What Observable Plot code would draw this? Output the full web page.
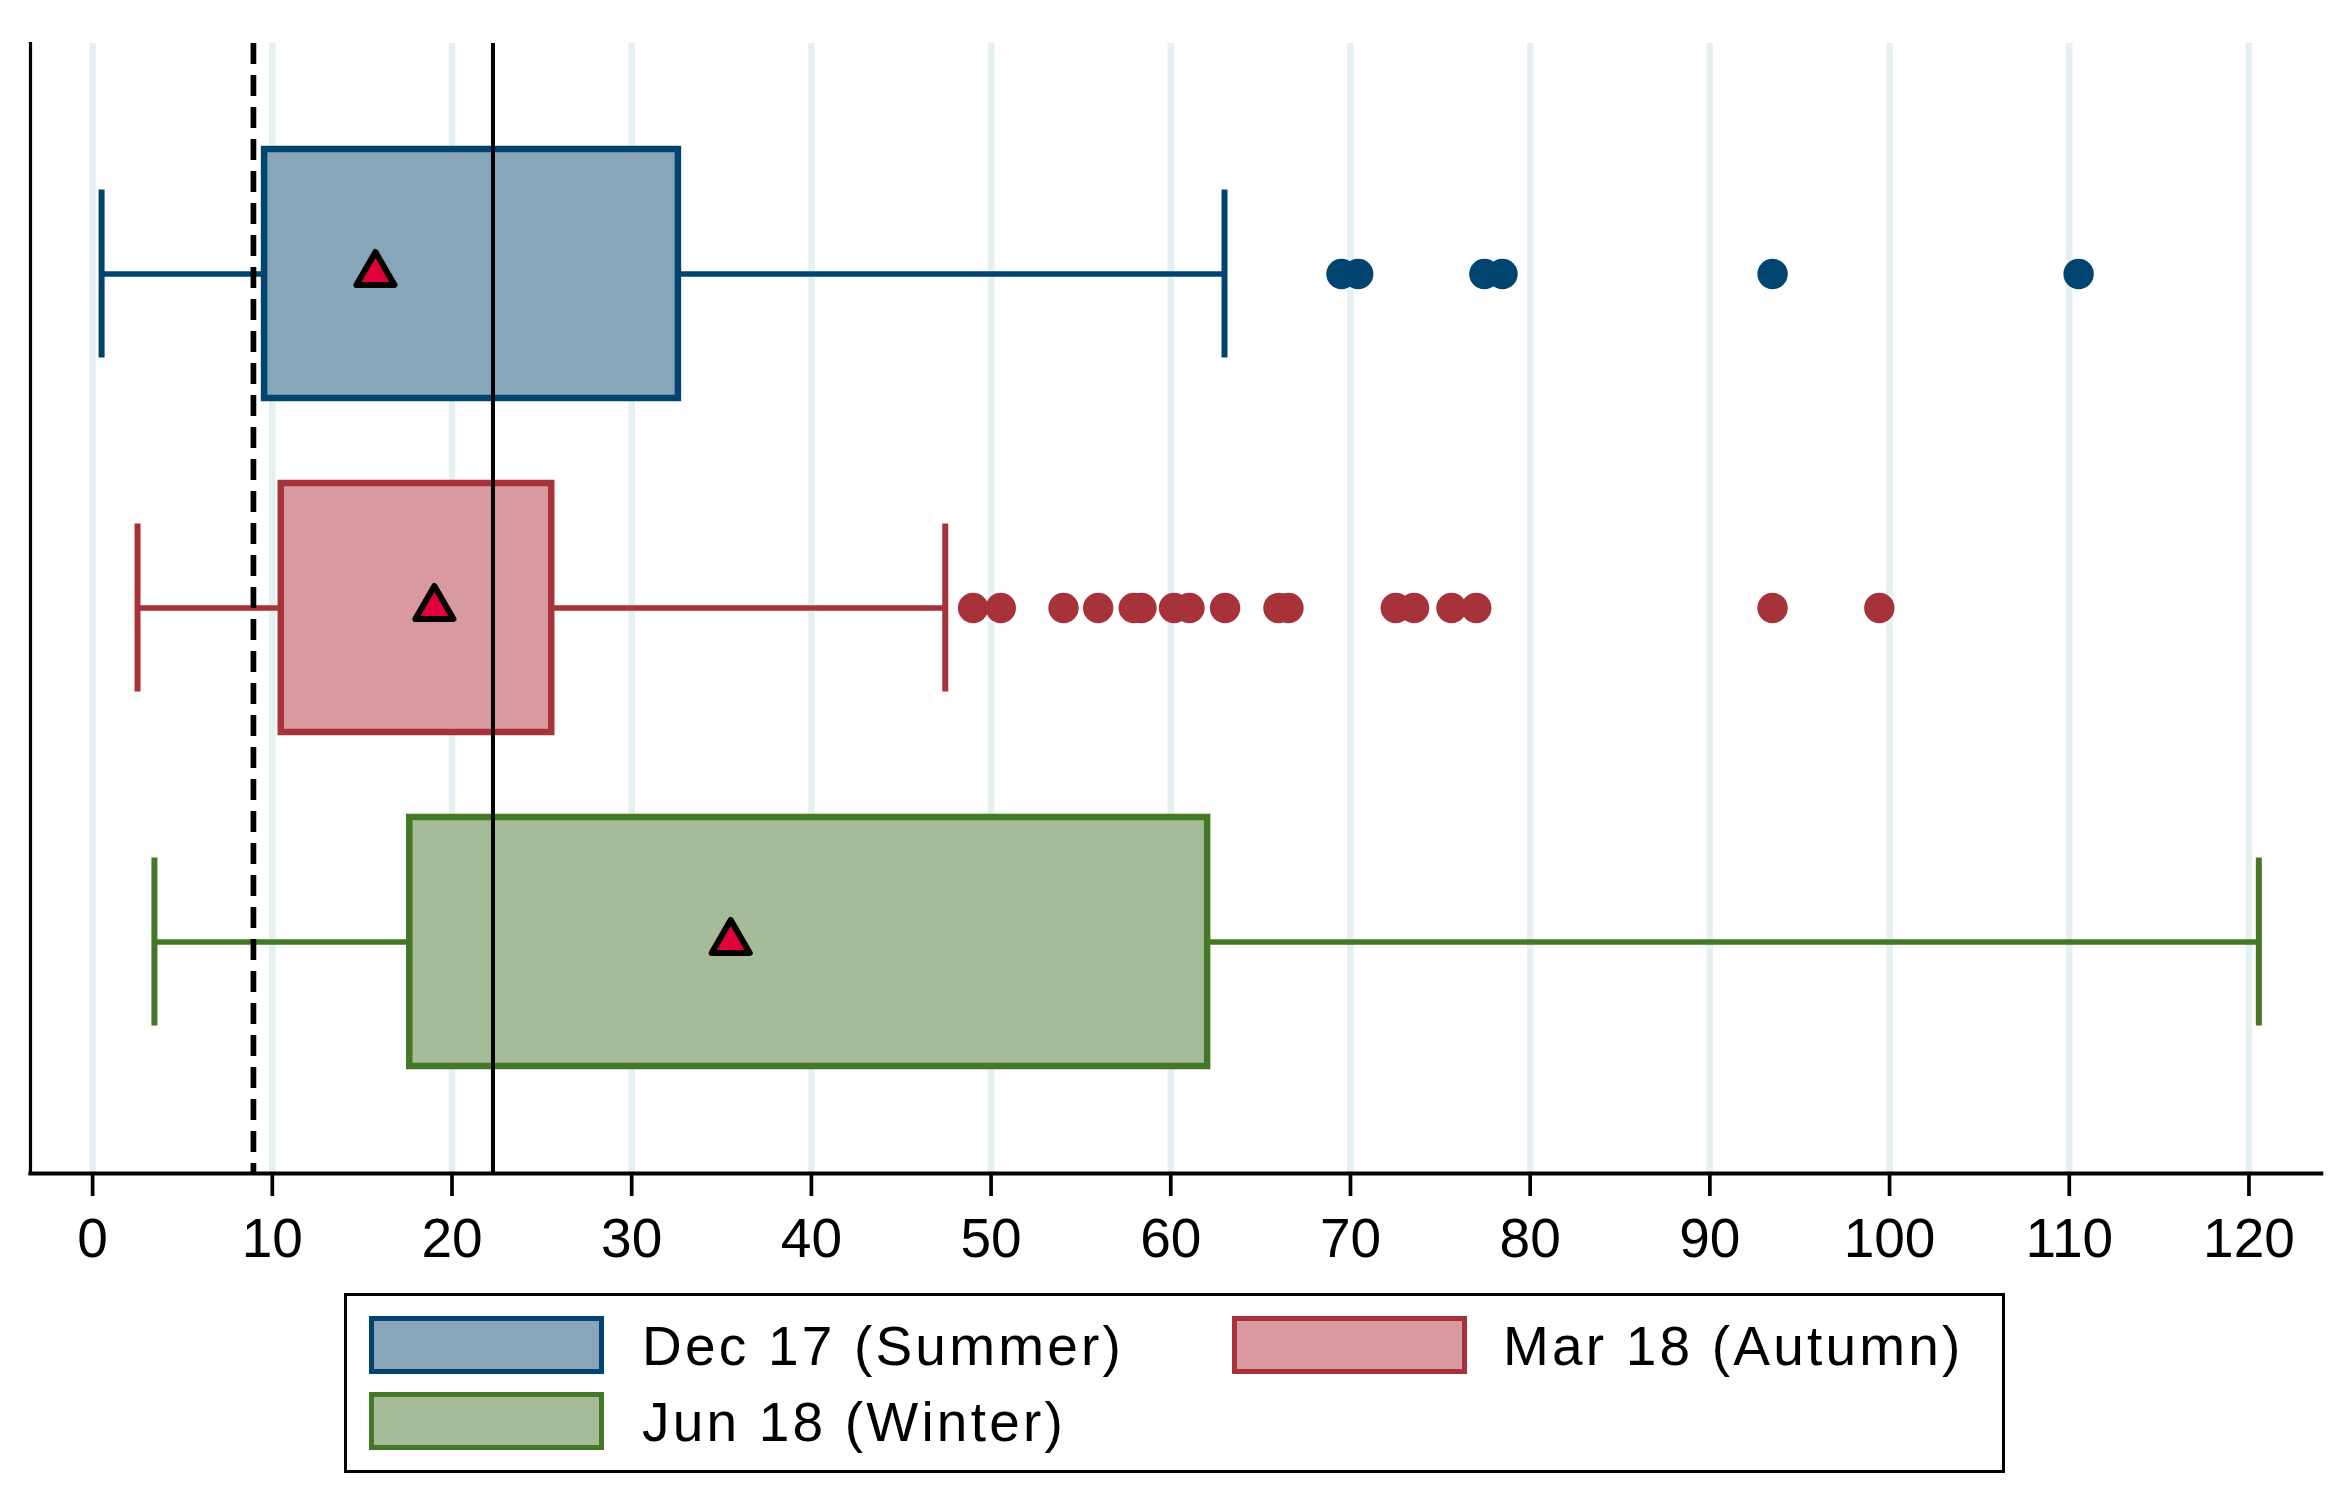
<!DOCTYPE html>
<html><head><meta charset="utf-8">
<script src="https://cdn.jsdelivr.net/npm/d3@7"></script>
<script src="https://cdn.jsdelivr.net/npm/@observablehq/plot@0.6"></script>
<style>
html,body{margin:0;padding:0;background:#fff;}
body{width:2350px;height:1511px;position:relative;overflow:hidden;font-family:"Liberation Sans",Arial,sans-serif;}
#chart{position:absolute;left:0;top:0;}
#legendBox{position:absolute;left:344px;top:1293px;width:1661px;height:180px;border:3.7px solid #000;box-sizing:border-box;}
.key{position:absolute;width:235px;height:58px;box-sizing:border-box;border:5.5px solid;}
.lab{position:absolute;font-size:55px;line-height:55px;letter-spacing:3.2px;white-space:nowrap;color:#000;}
</style></head><body>
<div id="chart"></div>
<div id="legendBox"></div>
<script>
// ---- data ----
const series = ["Dec 17 (Summer)", "Mar 18 (Autumn)", "Jun 18 (Winter)"];
const strokeColors = ["#00446f", "#a8323a", "#427826"];
const fillColors = ["#87a6ba", "#d89aa0", "#a6bb98"];
const whiskerLow = [0.5, 2.5, 3.44];
const q1 = [9.57, 10.5, 17.65];
const q3 = [32.6, 25.55, 62.05];
const whiskerHigh = [62.99, 47.45, 120.55];
const means = [15.74, 19.02, 35.51];
const outliersDec = [69.5, 70.43, 77.45, 78.46, 93.49, 110.52];
const outliersMar = [49.0, 50.54, 54.03, 55.96, 57.94, 58.37, 60.18, 61.04, 63.02, 65.99, 66.55, 72.52, 73.54, 75.62, 77.0, 93.49, 99.43];
const outliersJun = [];
const refDashed = [8.95];
const refSolid = [22.28];
const xTicks = [0, 10, 20, 30, 40, 50, 60, 70, 80, 90, 100, 110, 120];
const xDomain = [-3.456, 124.02];

// ---- tables ----
const rows = series.map((s, i) => ({
  series: s, lo: whiskerLow[i], q1: q1[i], q3: q3[i], hi: whiskerHigh[i],
  mean: means[i], sc: strokeColors[i], fc: fillColors[i]
}));
const outlierLists = [outliersDec, outliersMar, outliersJun];
const outliers = outlierLists.flatMap((arr, i) => arr.map(v => ({series: series[i], value: v, sc: strokeColors[i]})));

const H = 1285;
const plot = Plot.plot({
  width: 2350,
  height: H,
  marginLeft: 30,
  marginRight: 29.3,
  marginTop: 43,
  marginBottom: H - 1173,
  style: {fontFamily: '"Liberation Sans", Arial, sans-serif', background: "#fff", color: "#000", fontSize: "55px"},
  x: {domain: xDomain, label: null},
  y: {domain: series, paddingInner: 0.254, paddingOuter: 0.315, axis: null},
  color: {type: "identity"},
  marks: [
    Plot.gridX(xTicks, {stroke: "#e4f0f2", strokeOpacity: 1, strokeWidth: 6.5}),
    Plot.ruleY(rows, {y: "series", x1: "lo", x2: "q1", stroke: "sc", strokeWidth: 5.7}),
    Plot.ruleY(rows, {y: "series", x1: "q3", x2: "hi", stroke: "sc", strokeWidth: 5.7}),
    Plot.tickX(rows, {x: "lo", y: "series", stroke: "sc", strokeWidth: 6, insetTop: 40.5, insetBottom: 40.5}),
    Plot.tickX(rows, {x: "hi", y: "series", stroke: "sc", strokeWidth: 6, insetTop: 40.5, insetBottom: 40.5}),
    Plot.barX(rows, {x1: "q1", x2: "q3", y: "series", fill: "fc", stroke: "sc", strokeWidth: 6.5}),
    Plot.dot(outliers, {x: "value", y: "series", r: 15.2, fill: "sc", stroke: "none"}),
    Plot.dot(rows, {x: "mean", y: "series", symbol: "triangle", r: 14.15, fill: "#e2003a", stroke: "#000", strokeWidth: 6, strokeLinejoin: "round"}),
    Plot.ruleX(refDashed, {stroke: "#000", strokeWidth: 5.7, strokeDasharray: "21,11"}),
    Plot.ruleX(refSolid, {stroke: "#000", strokeWidth: 4}),
    Plot.frame({anchor: "left", stroke: "#000", strokeWidth: 3.2}),
    Plot.frame({anchor: "bottom", stroke: "#000", strokeWidth: 4.2}),
    Plot.axisX(xTicks, {tickSize: 23, tickPadding: 21, fontSize: 55, strokeWidth: 3.7, label: null, stroke: "#000", fill: "#000"})
  ]
});
document.getElementById("chart").appendChild(plot);

// ---- legend (HTML, below the SVG) ----
const keyPos = [[368.8, 1316], [1232, 1316], [368.8, 1391.7]];
const labPos = [[642, 1319.4], [1503, 1319.4], [642, 1395.4]];
series.forEach((s, i) => {
  const k = document.createElement("div");
  k.className = "key";
  k.style.left = keyPos[i][0] + "px";
  k.style.top = keyPos[i][1] + "px";
  k.style.background = fillColors[i];
  k.style.borderColor = strokeColors[i];
  document.body.appendChild(k);
  const t = document.createElement("div");
  t.className = "lab";
  t.style.left = labPos[i][0] + "px";
  t.style.top = labPos[i][1] + "px";
  t.textContent = s;
  document.body.appendChild(t);
});
</script>
</body></html>
